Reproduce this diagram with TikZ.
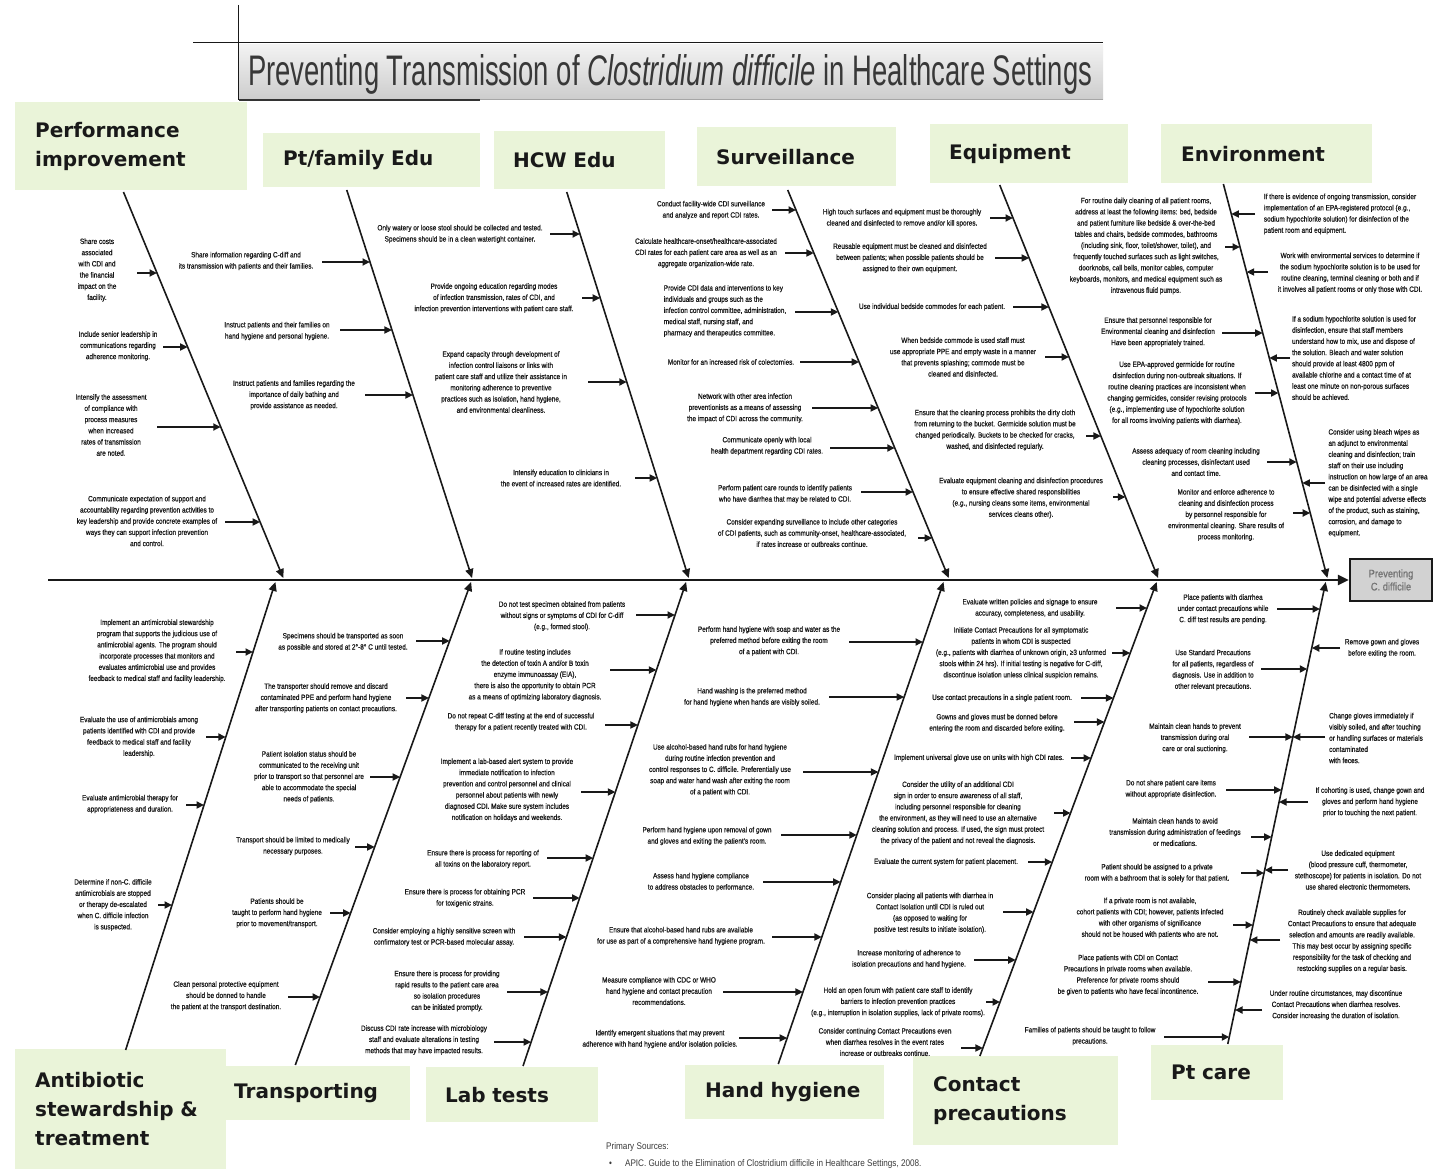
\documentclass[tikz,border=0pt]{standalone}
\usepackage{fontspec}
\setmainfont{Liberation Sans}
\newfontfamily\notefont[FakeStretch=0.85,FakeBold=0.6]{Liberation Sans}
\newfontfamily\srcfont[FakeStretch=0.85]{Liberation Sans}
\newfontfamily\catfont{DejaVu Sans}
\usetikzlibrary{arrows.meta}
\definecolor{catgreen}{RGB}{234,244,217}
\definecolor{ink}{RGB}{25,25,25}

% x position of each bone as a function of y
\pgfmathdeclarefunction{bonea}{1}{\pgfmathparse{157+0.414*(#1-273)}}
\pgfmathdeclarefunction{boneb}{1}{\pgfmathparse{370+0.323*(#1-262)}}
\pgfmathdeclarefunction{bonec}{1}{\pgfmathparse{580+0.316*(#1-234)}}
\pgfmathdeclarefunction{boned}{1}{\pgfmathparse{796+0.415*(#1-210)}}
\pgfmathdeclarefunction{bonee}{1}{\pgfmathparse{1013+0.403*(#1-218)}}
\pgfmathdeclarefunction{bonef}{1}{\pgfmathparse{1240+0.264*(#1-247)}}
\pgfmathdeclarefunction{boneg}{1}{\pgfmathparse{253-0.32*(#1-652)}}
\pgfmathdeclarefunction{boneh}{1}{\pgfmathparse{450-0.364*(#1-640)}}
\pgfmathdeclarefunction{bonei}{1}{\pgfmathparse{675-0.337*(#1-615)}}
\pgfmathdeclarefunction{bonej}{1}{\pgfmathparse{923-0.343*(#1-642)}}
\pgfmathdeclarefunction{bonek}{1}{\pgfmathparse{1147-0.373*(#1-608)}}
\pgfmathdeclarefunction{bonel}{1}{\pgfmathparse{1320-0.212*(#1-609)}}

\tikzset{
  note/.style={font=\notefont\fontsize{7.6}{11.2}\selectfont, text=ink, align=center, inner sep=0.5pt},
  arr/.style={draw=ink, line width=1.7pt, -{Triangle[length=7.5pt,width=7pt]}},
  bone/.style={draw=ink, line width=1.6pt, -{Triangle[length=9pt,width=8pt]}},
  spine/.style={draw=ink, line width=2.4pt, -{Triangle[length=11pt,width=10pt]}},
  cat/.style={fill=catgreen, anchor=north west, inner ysep=0pt, align=left,
    font=\catfont\bfseries\fontsize{20}{29}\selectfont, text=ink},
  src/.style={font=\srcfont\fontsize{9.6}{11}\selectfont, text=ink!85, inner sep=0pt}
}

% one cause: text block plus horizontal arrow onto its bone
% [style] {name}{text x}{text y}{bone}{arrow y}{arrow tail x}{text}
\newcommand\fbnote[8][]{%
  \node[note,#1] (#2) at (#3,#4) {#8};
  \coordinate (#2-t) at (#7,#6);
  \coordinate (#2-h) at ({#5(#6)},#6);
  \draw[arr] (#2-t) -- (#2-h);
}

\begin{document}
\begin{tikzpicture}[x=1pt,y=-1pt]
\useasboundingbox[fill=white] (0,0) rectangle (1453,1169);

% ---------- title ----------
\shade[top color=gray!10, bottom color=gray!40] (239,45) rectangle (1103,100);
\draw[gray!70, line width=1pt] (239,100) -- (1103,100);
\draw[gray!40!black, line width=1.2pt] (239,100) -- (480,100);
\draw[ink, line width=1pt] (193,43) -- (1103,43);
\draw[ink, line width=1pt] (238,5) -- (238,100);
\node[anchor=base west, inner sep=0pt, text=black!78] (title) at (248,86)
  {\resizebox{844pt}{31pt}{\fontsize{40}{40}\selectfont Preventing Transmission of \textit{Clostridium difficile} in Healthcare Settings}};

% ---------- head and spine ----------
\node[draw=ink, line width=2.4pt, fill=gray!35, minimum width=82pt, minimum height=42pt,
  align=center, font=\notefont\fontsize{11}{13}\selectfont, text=black!55] (head) at (1391,580)
  {Preventing\\C. difficile};
\coordinate (tail) at (48,580);
\draw[spine] (tail) -- (head.west);

% ---------- category labels ----------
\node[cat, minimum height=88pt, text width=192pt, inner xsep=20pt] (perf) at (15,102) {Performance\\improvement};
\node[cat, minimum height=54pt, text width=177pt, inner xsep=20pt] (ptfam) at (263,133) {Pt/family Edu};
\node[cat, minimum height=58pt, text width=133pt, inner xsep=19pt] (hcw) at (494,131) {HCW Edu};
\node[cat, minimum height=59pt, text width=161pt, inner xsep=19pt] (surv) at (697,127) {Surveillance};
\node[cat, minimum height=59pt, text width=160pt, inner xsep=19pt] (equip) at (930,124) {Equipment};
\node[cat, minimum height=59pt, text width=171pt, inner xsep=20pt] (env) at (1161,124) {Environment};
\node[cat, minimum height=120pt, text width=171pt, inner xsep=20pt] (anti) at (15,1049) {Antibiotic\\stewardship \&\\treatment};
\node[cat, minimum height=54pt, text width=168pt, inner xsep=8pt] (trans) at (226,1066) {Transporting};
\node[cat, minimum height=55pt, text width=134pt, inner xsep=19pt] (lab) at (426,1067) {Lab tests};
\node[cat, minimum height=54pt, text width=165pt, inner xsep=17pt] (hh) at (685,1065) {\hspace{3pt}Hand hygiene};
\node[cat, minimum height=89pt, text width=165pt, inner xsep=20pt] (contact) at (913,1056) {Contact\\precautions};
\node[cat, minimum height=55pt, text width=92pt, inner xsep=20pt] (ptcare) at (1151,1045) {Pt care};

% ---------- bones ----------
\foreach \b/\f/\ya/\yb in {A/bonea/192/578, B/boneb/190/578, C/bonec/192/578, D/boned/190/578,
    E/bonee/185/578, F/bonef/184/578, G/boneg/1050/582, H/boneh/1065/582, I/bonei/1066/582,
    J/bonej/1064/582, K/bonek/1056/582, L/bonel/1044/582}{
  \coordinate (\b1) at ({\f(\ya)},\ya);
  \coordinate (\b2) at ({\f(\yb)},\yb);
  \draw[bone] (\b1) -- (\b2);
}

% ---------- Performance improvement ----------
\fbnote{a1}{97}{270}{bonea}{273}{137}{Share costs\\associated\\with CDI and\\the financial\\impact on the\\facility.}
\fbnote{a2}{118}{346}{bonea}{347}{163}{Include senior leadership in\\communications regarding\\adherence monitoring.}
\fbnote{a3}{111}{425}{bonea}{427}{157}{Intensify the assessment\\of compliance with\\process measures\\when increased\\rates of transmission\\are noted.}
\fbnote{a4}{147}{521}{bonea}{522}{225}{Communicate expectation of support and\\accountability regarding prevention activities to\\key leadership and provide concrete examples of\\ways they can support infection prevention\\and control.}

% ---------- Pt/family Edu ----------
\fbnote{b1}{246}{261}{boneb}{262}{322}{Share information regarding C-diff and\\its transmission with patients and their families.}
\fbnote{b2}{277}{331}{boneb}{330}{340}{Instruct patients and their families on\\hand hygiene and personal hygiene.}
\fbnote{b3}{294}{395}{boneb}{395}{365}{Instruct patients and families regarding the\\importance of daily bathing and\\provide assistance as needed.}

% ---------- HCW Edu ----------
\fbnote{c1}{460}{234}{bonec}{234}{550}{Only watery or loose stool should be collected and tested.\\Specimens should be in a clean watertight container.}
\fbnote{c2}{494}{298}{bonec}{298}{582}{Provide ongoing education regarding modes\\of infection transmission, rates of CDI, and\\infection prevention interventions with patient care staff.}
\fbnote{c3}{501}{382}{bonec}{382}{588}{Expand capacity through development of\\infection control liaisons or links with\\patient care staff and utilize their assistance in\\monitoring adherence to preventive\\practices such as isolation, hand hygiene,\\and environmental cleanliness.}
\fbnote{c4}{561}{478}{bonec}{478}{635}{Intensify education to clinicians in\\the event of increased rates are identified.}

% ---------- Surveillance ----------
\fbnote{d1}{711}{210}{boned}{210}{772}{Conduct facility-wide CDI surveillance\\and analyze and report CDI rates.}
\fbnote{d2}{706}{253}{boned}{253}{785}{Calculate healthcare-onset/healthcare-associated\\CDI rates for each patient care area as well as an\\aggregate organization-wide rate.}
\fbnote[align=left]{d3}{725}{311}{boned}{312}{795}{Provide CDI data and interventions to key\\individuals and groups such as the\\infection control committee, administration,\\medical staff, nursing staff, and\\pharmacy and therapeutics committee.}
\fbnote{d4}{731}{362}{boned}{362}{800}{Monitor for an increased risk of colectomies.}
\fbnote{d5}{745}{408}{boned}{408}{812}{Network with other area infection\\preventionists as a means of assessing\\the impact of CDI across the community.}
\fbnote{d6}{767}{446}{boned}{448}{830}{Communicate openly with local\\health department regarding CDI rates.}
\fbnote{d7}{785}{494}{boned}{492}{861}{Perform patient care rounds to identify patients\\who have diarrhea that may be related to CDI.}
\fbnote{d8}{812}{533}{boned}{538}{918}{Consider expanding surveillance to include other categories\\of CDI patients, such as community-onset, healthcare-associated,\\if rates increase or outbreaks continue.}

% ---------- Equipment ----------
\fbnote{e1}{902}{218}{bonee}{218}{990}{High touch surfaces and equipment must be thoroughly\\cleaned and disinfected to remove and/or kill spores.}
\fbnote{e2}{910}{258}{bonee}{258}{995}{Reusable equipment must be cleaned and disinfected\\between patients; when possible patients should be\\assigned to their own equipment.}
\fbnote{e3}{932}{307}{bonee}{307}{1013}{Use individual bedside commodes for each patient.}
\fbnote{e4}{963}{357}{bonee}{357}{1045}{When bedside commode is used staff must\\use appropriate PPE and empty waste in a manner\\that prevents splashing; commode must be\\cleaned and disinfected.}
\fbnote{e5}{995}{430}{bonee}{436}{1086}{Ensure that the cleaning process prohibits the dirty cloth\\from returning to the bucket. Germicide solution must be\\changed periodically. Buckets to be checked for cracks,\\washed, and disinfected regularly.}
\fbnote{e6}{1021}{498}{bonee}{497}{1113}{Evaluate equipment cleaning and disinfection procedures\\to ensure effective shared responsibilities\\(e.g., nursing cleans some items, environmental\\services cleans other).}

% ---------- Environment ----------
\fbnote{f1}{1146}{246}{bonef}{247}{1225}{For routine daily cleaning of all patient rooms,\\address at least the following items: bed, bedside\\and patient furniture like bedside \& over-the-bed\\tables and chairs, bedside commodes, bathrooms\\(including sink, floor, toilet/shower, toilet), and\\frequently touched surfaces such as light switches,\\doorknobs, call bells, monitor cables, computer\\keyboards, monitors, and medical equipment such as\\intravenous fluid pumps.}
\fbnote{f2}{1158}{332}{bonef}{333}{1222}{Ensure that personnel responsible for\\Environmental cleaning and disinfection\\Have been appropriately trained.}
\fbnote{f3}{1177}{393}{bonef}{393}{1255}{Use EPA-approved germicide for routine\\disinfection during non-outbreak situations. If\\routine cleaning practices are inconsistent when\\changing germicides, consider revising protocols\\(e.g., implementing use of hypochlorite solution\\for all rooms involving patients with diarrhea).}
\fbnote{f4}{1196}{462}{bonef}{462}{1267}{Assess adequacy of room cleaning including\\cleaning processes, disinfectant used\\and contact time.}
\fbnote{f5}{1226}{515}{bonef}{513}{1293}{Monitor and enforce adherence to\\cleaning and disinfection process\\by personnel responsible for\\environmental cleaning. Share results of\\process monitoring.}
\fbnote[align=left]{g1}{1340}{214}{bonef}{214}{1255}{If there is evidence of ongoing transmission, consider\\implementation of an EPA-registered protocol (e.g.,\\sodium hypochlorite solution) for disinfection of the\\patient room and equipment.}
\fbnote{g2}{1350}{273}{bonef}{272}{1268}{Work with environmental services to determine if\\the sodium hypochlorite solution is to be used for\\routine cleaning, terminal cleaning or both and if\\it involves all patient rooms or only those with CDI.}
\fbnote[align=left]{g3}{1354}{358}{bonef}{358}{1290}{If a sodium hypochlorite solution is used for\\disinfection, ensure that staff members\\understand how to mix, use and dispose of\\the solution. Bleach and water solution\\should provide at least 4800 ppm of\\available chlorine and a contact time of at\\least one minute on non-porous surfaces\\should be achieved.}
\fbnote[align=left]{g4}{1378}{483}{bonef}{483}{1325}{Consider using bleach wipes as\\an adjunct to environmental\\cleaning and disinfection; train\\staff on their use including\\instruction on how large of an area\\can be disinfected with a single\\wipe and potential adverse effects\\of the product, such as staining,\\corrosion, and damage to\\equipment.}

% ---------- Antibiotic stewardship & treatment ----------
\fbnote{h1}{157}{651}{boneg}{652}{236}{Implement an antimicrobial stewardship\\program that supports the judicious use of\\antimicrobial agents. The program should\\incorporate processes that monitors and\\evaluates antimicrobial use and provides\\feedback to medical staff and facility leadership.}
\fbnote{h2}{139}{737}{boneg}{737}{206}{Evaluate the use of antimicrobials among\\patients identified with CDI and provide\\feedback to medical staff and facility\\leadership.}
\fbnote{h3}{130}{804}{boneg}{805}{186}{Evaluate antimicrobial therapy for\\appropriateness and duration.}
\fbnote{h4}{113}{905}{boneg}{905}{158}{Determine if non-C. difficile\\antimicrobials are stopped\\or therapy de-escalated\\when C. difficile infection\\is suspected.}

% ---------- Transporting ----------
\fbnote{i1}{343}{642}{boneh}{641}{416}{Specimens should be transported as soon\\as possible and stored at 2°-8° C until tested.}
\fbnote{i2}{326}{698}{boneh}{698}{406}{The transporter should remove and discard\\contaminated PPE and perform hand hygiene\\after transporting patients on contact precautions.}
\fbnote{i3}{309}{777}{boneh}{777}{370}{Patient isolation status should be\\communicated to the receiving unit\\prior to transport so that personnel are\\able to accommodate the special\\needs of patients.}
\fbnote{i4}{293}{846}{boneh}{847}{355}{Transport should be limited to medically\\necessary purposes.}
\fbnote{i5}{277}{913}{boneh}{913}{330}{Patients should be\\taught to perform hand hygiene\\prior to movement/transport.}
\fbnote{i6}{226}{996}{boneh}{997}{288}{Clean personal protective equipment\\should be donned to handle\\the patient at the transport destination.}

% ---------- Lab tests ----------
\fbnote{j1}{562}{616}{bonei}{615}{636}{Do not test specimen obtained from patients\\without signs or symptoms of CDI for C-diff\\(e.g., formed stool).}
\fbnote{j2}{535}{675}{bonei}{670}{610}{If routine testing includes\\the detection of toxin A and/or B toxin\\enzyme immunoassay (EIA),\\there is also the opportunity to obtain PCR\\as a means of optimizing laboratory diagnosis.}
\fbnote{j3}{521}{722}{bonei}{725}{605}{Do not repeat C-diff testing at the end of successful\\therapy for a patient recently treated with CDI.}
\fbnote{j4}{507}{790}{bonei}{792}{581}{Implement a lab-based alert system to provide\\immediate notification to infection\\prevention and control personnel and clinical\\personnel about patients with newly\\diagnosed CDI. Make sure system includes\\notification on holidays and weekends.}
\fbnote{j5}{483}{859}{bonei}{858}{547}{Ensure there is process for reporting of\\all toxins on the laboratory report.}
\fbnote{j6}{465}{898}{bonei}{898}{533}{Ensure there is process for obtaining PCR\\for toxigenic strains.}
\fbnote{j7}{444}{937}{bonei}{937}{524}{Consider employing a highly sensitive screen with\\confirmatory test or PCR-based molecular assay.}
\fbnote{j8}{447}{991}{bonei}{992}{507}{Ensure there is process for providing\\rapid results to the patient care area\\so isolation procedures\\can be initiated promptly.}
\fbnote{j9}{424}{1040}{bonei}{1042}{494}{Discuss CDI rate increase with microbiology\\staff and evaluate alterations in testing\\methods that may have impacted results.}

% ---------- Hand hygiene ----------
\fbnote{k1}{769}{641}{bonej}{642}{849}{Perform hand hygiene with soap and water as the\\preferred method before exiting the room\\of a patient with CDI.}
\fbnote{k2}{752}{697}{bonej}{697}{829}{Hand washing is the preferred method\\for hand hygiene when hands are visibly soiled.}
\fbnote{k3}{720}{770}{bonej}{772}{803}{Use alcohol-based hand rubs for hand hygiene\\during routine infection prevention and\\control responses to C. difficile. Preferentially use\\soap and water hand wash after exiting the room\\of a patient with CDI.}
\fbnote{k4}{707}{836}{bonej}{835}{781}{Perform hand hygiene upon removal of gown\\and gloves and exiting the patient's room.}
\fbnote{k5}{701}{882}{bonej}{882}{763}{Assess hand hygiene compliance\\to address obstacles to performance.}
\fbnote{k6}{681}{936}{bonej}{937}{772}{Ensure that alcohol-based hand rubs are available\\for use as part of a comprehensive hand hygiene program.}
\fbnote{k7}{659}{991}{bonej}{992}{723}{Measure compliance with CDC or WHO\\hand hygiene and contact precaution\\recommendations.}
\fbnote{k8}{660}{1039}{bonej}{1038}{739}{Identify emergent situations that may prevent\\adherence with hand hygiene and/or isolation policies.}

% ---------- Contact precautions ----------
\fbnote{l1}{1030}{608}{bonek}{608}{1116}{Evaluate written policies and signage to ensure\\accuracy, completeness, and usability.}
\fbnote{l2}{1021}{653}{bonek}{653}{1112}{Initiate Contact Precautions for all symptomatic\\patients in whom CDI is suspected\\(e.g., patients with diarrhea of unknown origin, ≥3 unformed\\stools within 24 hrs). If initial testing is negative for C-diff,\\discontinue isolation unless clinical suspicion remains.}
\fbnote{l3}{1002}{698}{bonek}{698}{1081}{Use contact precautions in a single patient room.}
\fbnote{l4}{997}{723}{bonek}{722}{1074}{Gowns and gloves must be donned before\\entering the room and discarded before exiting.}
\fbnote{l5}{979}{758}{bonek}{758}{1071}{Implement universal glove use on units with high CDI rates.}
\fbnote{l6}{958}{813}{bonek}{813}{1054}{Consider the utility of an additional CDI\\sign in order to ensure awareness of all staff,\\including personnel responsible for cleaning\\the environment, as they will need to use an alternative\\cleaning solution and process. If used, the sign must protect\\the privacy of the patient and not reveal the diagnosis.}
\fbnote{l7}{946}{862}{bonek}{862}{1028}{Evaluate the current system for patient placement.}
\fbnote{l8}{930}{913}{bonek}{912}{1003}{Consider placing all patients with diarrhea in\\Contact Isolation until CDI is ruled out\\(as opposed to waiting for\\positive test results to initiate isolation).}
\fbnote{l9}{909}{959}{bonek}{960}{974}{Increase monitoring of adherence to\\isolation precautions and hand hygiene.}
\fbnote{l10}{898}{1002}{bonek}{1002}{986}{Hold an open forum with patient care staff to identify\\barriers to infection prevention practices\\(e.g., interruption in isolation supplies, lack of private rooms).}
\fbnote{l11}{885}{1042}{bonek}{1048}{961}{Consider continuing Contact Precautions even\\when diarrhea resolves in the event rates\\increase or outbreaks continue.}

% ---------- Pt care ----------
\fbnote{m1}{1223}{609}{bonel}{609}{1277}{Place patients with diarrhea\\under contact precautions while\\C. diff test results are pending.}
\fbnote{m2}{1213}{670}{bonel}{669}{1261}{Use Standard Precautions\\for all patients, regardless of\\diagnosis. Use in addition to\\other relevant precautions.}
\fbnote{m3}{1195}{738}{bonel}{737}{1249}{Maintain clean hands to prevent\\transmission during oral\\care or oral suctioning.}
\fbnote{m4}{1171}{789}{bonel}{790}{1226}{Do not share patient care items\\without appropriate disinfection.}
\fbnote{m5}{1175}{832}{bonel}{837}{1251}{Maintain clean hands to avoid\\transmission during administration of feedings\\or medications.}
\fbnote{m6}{1157}{873}{bonel}{873}{1241}{Patient should be assigned to a private\\room with a bathroom that is solely for that patient.}
\fbnote{m7}{1150}{918}{bonel}{925}{1233}{If a private room is not available,\\cohort patients with CDI; however, patients infected\\with other organisms of significance\\should not be housed with patients who are not.}
\fbnote{m8}{1128}{975}{bonel}{982}{1208}{Place patients with CDI on Contact\\Precautions in private rooms when available.\\Preference for private rooms should\\be given to patients who have fecal incontinence.}
\fbnote{m9}{1090}{1036}{bonel}{1037}{1164}{Families of patients should be taught to follow\\precautions.}
\fbnote{n1}{1382}{648}{bonel}{648}{1340}{Remove gown and gloves\\before exiting the room.}
\fbnote[align=left]{n2}{1376}{738}{bonel}{737}{1325}{Change gloves immediately if\\visibly soiled, and after touching\\or handling surfaces or materials\\contaminated\\with feces.}
\fbnote{n3}{1370}{802}{bonel}{802}{1308}{If cohorting is used, change gown and\\gloves and perform hand hygiene\\prior to touching the next patient.}
\fbnote{n4}{1358}{870}{bonel}{870}{1288}{Use dedicated equipment\\(blood pressure cuff, thermometer,\\stethoscope) for patients in isolation. Do not\\use shared electronic thermometers.}
\fbnote{n5}{1352}{941}{bonel}{940}{1280}{Routinely check available supplies for\\Contact Precautions to ensure that adequate\\selection and amounts are readily available.\\This may best occur by assigning specific\\responsibility for the task of checking and\\restocking supplies on a regular basis.}
\fbnote{n6}{1336}{1005}{bonel}{1010}{1262}{Under routine circumstances, may discontinue\\Contact Precautions when diarrhea resolves.\\Consider increasing the duration of isolation.}

% ---------- sources ----------
\node[src, anchor=base west] (srchead) at (606,1149) {Primary Sources:};
\node[src, anchor=base west] (src1) at (609,1166) {\textbullet\hspace{13pt}APIC. Guide to the Elimination of Clostridium difficile in Healthcare Settings, 2008.};
\end{tikzpicture}
\end{document}
